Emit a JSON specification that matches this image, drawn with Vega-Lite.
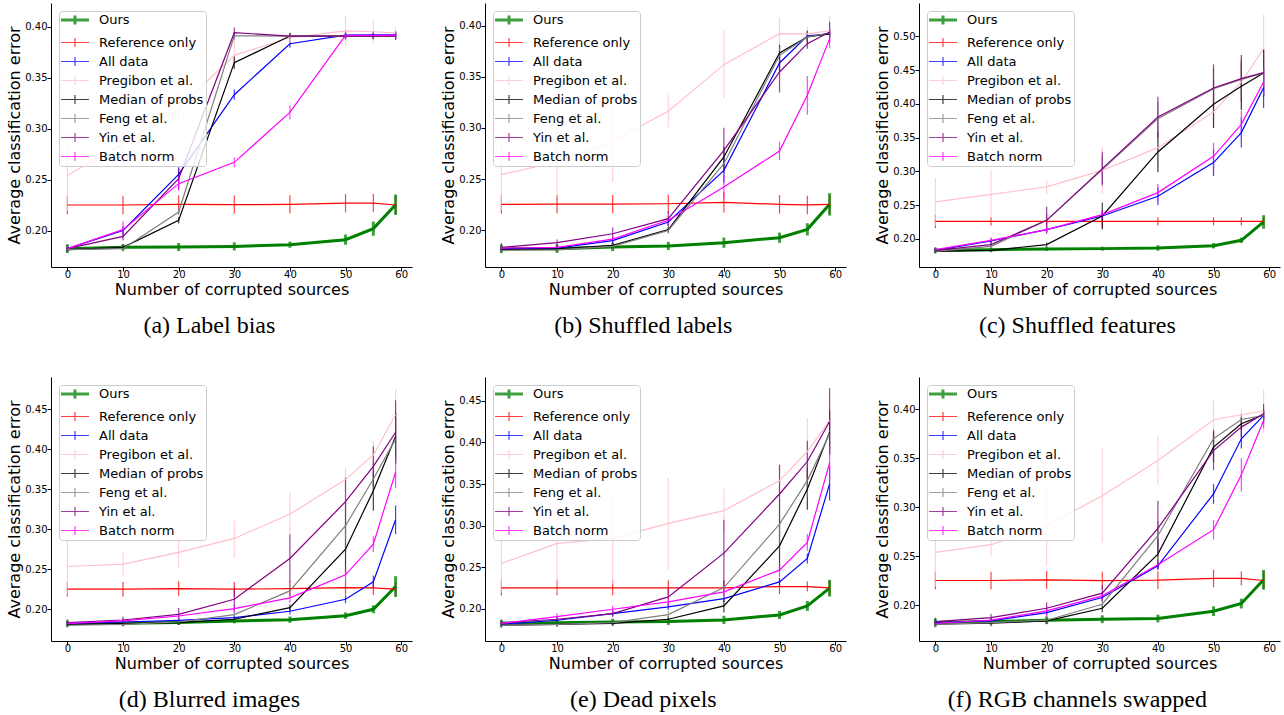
{
"$schema":"https://vega.github.io/schema/vega-lite/v6.json",
"padding":{"left":6,"top":3,"right":2,"bottom":2},
"config":{
"view":{"stroke":null},
"font":"DejaVu Sans",
"axis":{"grid":false,"domainColor":"black","tickColor":"black","tickSize":4,"labelFont":"DejaVu Sans","labelFontSize":10,"labelColor":"black","titleFont":"DejaVu Sans","titleFontSize":16,"titleFontWeight":"normal","titleColor":"black"},
"axisX":{"titlePadding":2,"labelPadding":-2},
"axisY":{"titlePadding":2,"labelPadding":0},
"legend":{"title":null,"orient":"top-left","offset":8,"symbolType":"M-1.27,0H3.82M1.27,-0.8V0.8","symbolSize":121,"labelFont":"DejaVu Sans","labelFontSize":13,"labelColor":"black","fillColor":"rgba(255,255,255,0.8)","strokeColor":"#cccccc","cornerRadius":3,"padding":2,"rowPadding":4,"labelOffset":24,"symbolOpacity":0.75},
"title":{"orient":"bottom","font":"Liberation Serif","fontSize":24,"fontWeight":"normal","color":"black","frame":"bounds","anchor":"middle","offset":16.5},
"concat":{"spacing":28}
},
"datasets":{
"a":[
{"s":"Ours","x":0,"y":0.1824,"e":0.004},{"s":"Ours","x":10,"y":0.1837,"e":0.003},{"s":"Ours","x":20,"y":0.184,"e":0.004},{"s":"Ours","x":30,"y":0.1846,"e":0.004},{"s":"Ours","x":40,"y":0.1863,"e":0.003},{"s":"Ours","x":50,"y":0.1912,"e":0.005},{"s":"Ours","x":55,"y":0.202,"e":0.007},{"s":"Ours","x":59,"y":0.2255,"e":0.01},
{"s":"Reference only","x":0,"y":0.2252,"e":0.009},{"s":"Reference only","x":10,"y":0.2252,"e":0.009},{"s":"Reference only","x":20,"y":0.2258,"e":0.009},{"s":"Reference only","x":30,"y":0.2255,"e":0.009},{"s":"Reference only","x":40,"y":0.2258,"e":0.009},{"s":"Reference only","x":50,"y":0.227,"e":0.009},{"s":"Reference only","x":55,"y":0.227,"e":0.009},{"s":"Reference only","x":59,"y":0.2252,"e":0.009},
{"s":"All data","x":0,"y":0.1824,"e":0.003},{"s":"All data","x":10,"y":0.2003,"e":0.004},{"s":"All data","x":20,"y":0.2552,"e":0.007},{"s":"All data","x":30,"y":0.3333,"e":0.005},{"s":"All data","x":40,"y":0.3833,"e":0.004},{"s":"All data","x":50,"y":0.3917,"e":0.003},{"s":"All data","x":55,"y":0.392,"e":0.003},{"s":"All data","x":59,"y":0.392,"e":0.003},
{"s":"Pregibon et al.","x":0,"y":0.2543,"e":0.035},{"s":"Pregibon et al.","x":10,"y":0.285,"e":0.02},{"s":"Pregibon et al.","x":20,"y":0.32,"e":0.015},{"s":"Pregibon et al.","x":30,"y":0.3719,"e":0.015},{"s":"Pregibon et al.","x":40,"y":0.3892,"e":0.005},{"s":"Pregibon et al.","x":50,"y":0.3958,"e":0.015},{"s":"Pregibon et al.","x":55,"y":0.395,"e":0.012},{"s":"Pregibon et al.","x":59,"y":0.394,"e":0.006},
{"s":"Median of probs","x":0,"y":0.1815,"e":0.003},{"s":"Median of probs","x":10,"y":0.1837,"e":0.003},{"s":"Median of probs","x":20,"y":0.2101,"e":0.003},{"s":"Median of probs","x":30,"y":0.3647,"e":0.006},{"s":"Median of probs","x":40,"y":0.3908,"e":0.003},{"s":"Median of probs","x":50,"y":0.3908,"e":0.003},{"s":"Median of probs","x":55,"y":0.3908,"e":0.003},{"s":"Median of probs","x":59,"y":0.3908,"e":0.003},
{"s":"Feng et al.","x":0,"y":0.1814,"e":0.003},{"s":"Feng et al.","x":10,"y":0.1824,"e":0.003},{"s":"Feng et al.","x":20,"y":0.2183,"e":0.003},{"s":"Feng et al.","x":30,"y":0.391,"e":0.004},{"s":"Feng et al.","x":40,"y":0.3908,"e":0.003},{"s":"Feng et al.","x":50,"y":0.3908,"e":0.003},{"s":"Feng et al.","x":55,"y":0.3908,"e":0.003},{"s":"Feng et al.","x":59,"y":0.3908,"e":0.003},
{"s":"Yin et al.","x":0,"y":0.1824,"e":0.004},{"s":"Yin et al.","x":10,"y":0.1944,"e":0.004},{"s":"Yin et al.","x":20,"y":0.251,"e":0.01},{"s":"Yin et al.","x":30,"y":0.3941,"e":0.005},{"s":"Yin et al.","x":40,"y":0.3908,"e":0.003},{"s":"Yin et al.","x":50,"y":0.3908,"e":0.003},{"s":"Yin et al.","x":55,"y":0.3908,"e":0.003},{"s":"Yin et al.","x":59,"y":0.3908,"e":0.004},
{"s":"Batch norm","x":0,"y":0.1824,"e":0.003},{"s":"Batch norm","x":10,"y":0.201,"e":0.008},{"s":"Batch norm","x":20,"y":0.2461,"e":0.007},{"s":"Batch norm","x":30,"y":0.267,"e":0.005},{"s":"Batch norm","x":40,"y":0.316,"e":0.007},{"s":"Batch norm","x":50,"y":0.3915,"e":0.004},{"s":"Batch norm","x":55,"y":0.3915,"e":0.004},{"s":"Batch norm","x":59,"y":0.3915,"e":0.004}
],
"b":[
{"s":"Ours","x":0,"y":0.1821,"e":0.004},{"s":"Ours","x":10,"y":0.1821,"e":0.004},{"s":"Ours","x":20,"y":0.1837,"e":0.004},{"s":"Ours","x":30,"y":0.1847,"e":0.004},{"s":"Ours","x":40,"y":0.188,"e":0.005},{"s":"Ours","x":50,"y":0.1928,"e":0.005},{"s":"Ours","x":55,"y":0.201,"e":0.006},{"s":"Ours","x":59,"y":0.2254,"e":0.011},
{"s":"Reference only","x":0,"y":0.2254,"e":0.009},{"s":"Reference only","x":10,"y":0.2256,"e":0.009},{"s":"Reference only","x":20,"y":0.2256,"e":0.009},{"s":"Reference only","x":30,"y":0.226,"e":0.009},{"s":"Reference only","x":40,"y":0.2274,"e":0.01},{"s":"Reference only","x":50,"y":0.2254,"e":0.009},{"s":"Reference only","x":55,"y":0.2248,"e":0.009},{"s":"Reference only","x":59,"y":0.2254,"e":0.009},
{"s":"All data","x":0,"y":0.182,"e":0.003},{"s":"All data","x":10,"y":0.1827,"e":0.003},{"s":"All data","x":20,"y":0.19,"e":0.003},{"s":"All data","x":30,"y":0.2081,"e":0.004},{"s":"All data","x":40,"y":0.2586,"e":0.012},{"s":"All data","x":50,"y":0.3635,"e":0.008},{"s":"All data","x":55,"y":0.39,"e":0.004},{"s":"All data","x":59,"y":0.392,"e":0.004},
{"s":"Pregibon et al.","x":0,"y":0.2544,"e":0.035},{"s":"Pregibon et al.","x":10,"y":0.2668,"e":0.035},{"s":"Pregibon et al.","x":20,"y":0.2873,"e":0.04},{"s":"Pregibon et al.","x":30,"y":0.3163,"e":0.016},{"s":"Pregibon et al.","x":40,"y":0.3619,"e":0.033},{"s":"Pregibon et al.","x":50,"y":0.3922,"e":0.016},{"s":"Pregibon et al.","x":55,"y":0.392,"e":0.007},{"s":"Pregibon et al.","x":59,"y":0.395,"e":0.014},
{"s":"Median of probs","x":0,"y":0.1811,"e":0.003},{"s":"Median of probs","x":10,"y":0.182,"e":0.003},{"s":"Median of probs","x":20,"y":0.1853,"e":0.003},{"s":"Median of probs","x":30,"y":0.2007,"e":0.003},{"s":"Median of probs","x":40,"y":0.2717,"e":0.01},{"s":"Median of probs","x":50,"y":0.3733,"e":0.008},{"s":"Median of probs","x":55,"y":0.389,"e":0.006},{"s":"Median of probs","x":59,"y":0.392,"e":0.004},
{"s":"Feng et al.","x":0,"y":0.1805,"e":0.003},{"s":"Feng et al.","x":10,"y":0.181,"e":0.003},{"s":"Feng et al.","x":20,"y":0.1844,"e":0.003},{"s":"Feng et al.","x":30,"y":0.2,"e":0.003},{"s":"Feng et al.","x":40,"y":0.2651,"e":0.01},{"s":"Feng et al.","x":50,"y":0.371,"e":0.008},{"s":"Feng et al.","x":55,"y":0.389,"e":0.005},{"s":"Feng et al.","x":59,"y":0.3928,"e":0.004},
{"s":"Yin et al.","x":0,"y":0.1834,"e":0.004},{"s":"Yin et al.","x":10,"y":0.188,"e":0.003},{"s":"Yin et al.","x":20,"y":0.1967,"e":0.006},{"s":"Yin et al.","x":30,"y":0.2114,"e":0.007},{"s":"Yin et al.","x":40,"y":0.2782,"e":0.022},{"s":"Yin et al.","x":50,"y":0.3547,"e":0.02},{"s":"Yin et al.","x":55,"y":0.3824,"e":0.005},{"s":"Yin et al.","x":59,"y":0.3938,"e":0.01},
{"s":"Batch norm","x":0,"y":0.1827,"e":0.003},{"s":"Batch norm","x":10,"y":0.1834,"e":0.003},{"s":"Batch norm","x":20,"y":0.1915,"e":0.003},{"s":"Batch norm","x":30,"y":0.2098,"e":0.004},{"s":"Batch norm","x":40,"y":0.2423,"e":0.012},{"s":"Batch norm","x":50,"y":0.2775,"e":0.009},{"s":"Batch norm","x":55,"y":0.3319,"e":0.019},{"s":"Batch norm","x":59,"y":0.3873,"e":0.009}
],
"c":[
{"s":"Ours","x":0,"y":0.1832,"e":0.004},{"s":"Ours","x":10,"y":0.1842,"e":0.003},{"s":"Ours","x":20,"y":0.1852,"e":0.003},{"s":"Ours","x":30,"y":0.1857,"e":0.003},{"s":"Ours","x":40,"y":0.1867,"e":0.004},{"s":"Ours","x":50,"y":0.19,"e":0.004},{"s":"Ours","x":55,"y":0.198,"e":0.004},{"s":"Ours","x":59,"y":0.2252,"e":0.01},
{"s":"Reference only","x":0,"y":0.2261,"e":0.01},{"s":"Reference only","x":10,"y":0.2261,"e":0.006},{"s":"Reference only","x":20,"y":0.2261,"e":0.006},{"s":"Reference only","x":30,"y":0.2261,"e":0.01},{"s":"Reference only","x":40,"y":0.2261,"e":0.006},{"s":"Reference only","x":50,"y":0.2261,"e":0.006},{"s":"Reference only","x":55,"y":0.2261,"e":0.006},{"s":"Reference only","x":59,"y":0.2261,"e":0.006},
{"s":"All data","x":0,"y":0.1832,"e":0.003},{"s":"All data","x":10,"y":0.197,"e":0.004},{"s":"All data","x":20,"y":0.2138,"e":0.004},{"s":"All data","x":30,"y":0.234,"e":0.008},{"s":"All data","x":40,"y":0.2632,"e":0.013},{"s":"All data","x":50,"y":0.313,"e":0.02},{"s":"All data","x":55,"y":0.3574,"e":0.022},{"s":"All data","x":59,"y":0.424,"e":0.03},
{"s":"Pregibon et al.","x":0,"y":0.2548,"e":0.035},{"s":"Pregibon et al.","x":10,"y":0.2661,"e":0.035},{"s":"Pregibon et al.","x":20,"y":0.277,"e":0.01},{"s":"Pregibon et al.","x":30,"y":0.3016,"e":0.035},{"s":"Pregibon et al.","x":40,"y":0.3352,"e":0.03},{"s":"Pregibon et al.","x":50,"y":0.388,"e":0.025},{"s":"Pregibon et al.","x":55,"y":0.4324,"e":0.04},{"s":"Pregibon et al.","x":59,"y":0.4817,"e":0.05},
{"s":"Median of probs","x":0,"y":0.1817,"e":0.003},{"s":"Median of probs","x":10,"y":0.1832,"e":0.003},{"s":"Median of probs","x":20,"y":0.1916,"e":0.003},{"s":"Median of probs","x":30,"y":0.234,"e":0.02},{"s":"Median of probs","x":40,"y":0.3288,"e":0.03},{"s":"Median of probs","x":50,"y":0.3993,"e":0.035},{"s":"Median of probs","x":55,"y":0.426,"e":0.035},{"s":"Median of probs","x":59,"y":0.4457,"e":0.035},
{"s":"Feng et al.","x":0,"y":0.1817,"e":0.003},{"s":"Feng et al.","x":10,"y":0.1891,"e":0.003},{"s":"Feng et al.","x":20,"y":0.2276,"e":0.01},{"s":"Feng et al.","x":30,"y":0.3026,"e":0.02},{"s":"Feng et al.","x":40,"y":0.3781,"e":0.025},{"s":"Feng et al.","x":50,"y":0.4225,"e":0.03},{"s":"Feng et al.","x":55,"y":0.4363,"e":0.03},{"s":"Feng et al.","x":59,"y":0.4457,"e":0.03},
{"s":"Yin et al.","x":0,"y":0.1832,"e":0.004},{"s":"Yin et al.","x":10,"y":0.1916,"e":0.004},{"s":"Yin et al.","x":20,"y":0.2276,"e":0.02},{"s":"Yin et al.","x":30,"y":0.3041,"e":0.025},{"s":"Yin et al.","x":40,"y":0.3806,"e":0.03},{"s":"Yin et al.","x":50,"y":0.4235,"e":0.035},{"s":"Yin et al.","x":55,"y":0.4373,"e":0.035},{"s":"Yin et al.","x":59,"y":0.4462,"e":0.035},
{"s":"Batch norm","x":0,"y":0.1842,"e":0.003},{"s":"Batch norm","x":10,"y":0.198,"e":0.004},{"s":"Batch norm","x":20,"y":0.2138,"e":0.004},{"s":"Batch norm","x":30,"y":0.236,"e":0.006},{"s":"Batch norm","x":40,"y":0.2686,"e":0.013},{"s":"Batch norm","x":50,"y":0.3224,"e":0.02},{"s":"Batch norm","x":55,"y":0.3697,"e":0.02},{"s":"Batch norm","x":59,"y":0.4324,"e":0.02}
],
"d":[
{"s":"Ours","x":0,"y":0.182,"e":0.004},{"s":"Ours","x":10,"y":0.1824,"e":0.003},{"s":"Ours","x":20,"y":0.1833,"e":0.003},{"s":"Ours","x":30,"y":0.1854,"e":0.003},{"s":"Ours","x":40,"y":0.187,"e":0.004},{"s":"Ours","x":50,"y":0.192,"e":0.004},{"s":"Ours","x":55,"y":0.2,"e":0.005},{"s":"Ours","x":59,"y":0.2284,"e":0.013},
{"s":"Reference only","x":0,"y":0.2251,"e":0.009},{"s":"Reference only","x":10,"y":0.2251,"e":0.009},{"s":"Reference only","x":20,"y":0.2259,"e":0.009},{"s":"Reference only","x":30,"y":0.2251,"e":0.009},{"s":"Reference only","x":40,"y":0.2259,"e":0.009},{"s":"Reference only","x":50,"y":0.2272,"e":0.009},{"s":"Reference only","x":55,"y":0.2268,"e":0.009},{"s":"Reference only","x":59,"y":0.2251,"e":0.009},
{"s":"All data","x":0,"y":0.182,"e":0.003},{"s":"All data","x":10,"y":0.1841,"e":0.003},{"s":"All data","x":20,"y":0.1862,"e":0.003},{"s":"All data","x":30,"y":0.1896,"e":0.003},{"s":"All data","x":40,"y":0.1975,"e":0.004},{"s":"All data","x":50,"y":0.2125,"e":0.005},{"s":"All data","x":55,"y":0.2343,"e":0.008},{"s":"All data","x":59,"y":0.312,"e":0.018},
{"s":"Pregibon et al.","x":0,"y":0.2535,"e":0.035},{"s":"Pregibon et al.","x":10,"y":0.2564,"e":0.015},{"s":"Pregibon et al.","x":20,"y":0.2711,"e":0.02},{"s":"Pregibon et al.","x":30,"y":0.2886,"e":0.024},{"s":"Pregibon et al.","x":40,"y":0.3191,"e":0.027},{"s":"Pregibon et al.","x":50,"y":0.3622,"e":0.015},{"s":"Pregibon et al.","x":55,"y":0.3931,"e":0.018},{"s":"Pregibon et al.","x":59,"y":0.4433,"e":0.032},
{"s":"Median of probs","x":0,"y":0.1808,"e":0.003},{"s":"Median of probs","x":10,"y":0.182,"e":0.003},{"s":"Median of probs","x":20,"y":0.1833,"e":0.003},{"s":"Median of probs","x":30,"y":0.1875,"e":0.003},{"s":"Median of probs","x":40,"y":0.2021,"e":0.004},{"s":"Median of probs","x":50,"y":0.2752,"e":0.03},{"s":"Median of probs","x":55,"y":0.3484,"e":0.025},{"s":"Median of probs","x":59,"y":0.4161,"e":0.03},
{"s":"Feng et al.","x":0,"y":0.18,"e":0.003},{"s":"Feng et al.","x":10,"y":0.1812,"e":0.003},{"s":"Feng et al.","x":20,"y":0.1841,"e":0.003},{"s":"Feng et al.","x":30,"y":0.1933,"e":0.004},{"s":"Feng et al.","x":40,"y":0.223,"e":0.008},{"s":"Feng et al.","x":50,"y":0.3045,"e":0.03},{"s":"Feng et al.","x":55,"y":0.363,"e":0.02},{"s":"Feng et al.","x":59,"y":0.4132,"e":0.03},
{"s":"Yin et al.","x":0,"y":0.1833,"e":0.004},{"s":"Yin et al.","x":10,"y":0.1866,"e":0.004},{"s":"Yin et al.","x":20,"y":0.1937,"e":0.008},{"s":"Yin et al.","x":30,"y":0.2125,"e":0.015},{"s":"Yin et al.","x":40,"y":0.2635,"e":0.03},{"s":"Yin et al.","x":50,"y":0.3346,"e":0.03},{"s":"Yin et al.","x":55,"y":0.3789,"e":0.025},{"s":"Yin et al.","x":59,"y":0.4215,"e":0.04},
{"s":"Batch norm","x":0,"y":0.1824,"e":0.003},{"s":"Batch norm","x":10,"y":0.1854,"e":0.003},{"s":"Batch norm","x":20,"y":0.1916,"e":0.004},{"s":"Batch norm","x":30,"y":0.2008,"e":0.005},{"s":"Batch norm","x":40,"y":0.2142,"e":0.006},{"s":"Batch norm","x":50,"y":0.2431,"e":0.008},{"s":"Batch norm","x":55,"y":0.2815,"e":0.01},{"s":"Batch norm","x":59,"y":0.3714,"e":0.02}
],
"e":[
{"s":"Ours","x":0,"y":0.1827,"e":0.004},{"s":"Ours","x":10,"y":0.1835,"e":0.003},{"s":"Ours","x":20,"y":0.1843,"e":0.004},{"s":"Ours","x":30,"y":0.1848,"e":0.004},{"s":"Ours","x":40,"y":0.1868,"e":0.005},{"s":"Ours","x":50,"y":0.1928,"e":0.005},{"s":"Ours","x":55,"y":0.2036,"e":0.006},{"s":"Ours","x":59,"y":0.2249,"e":0.01},
{"s":"Reference only","x":0,"y":0.2253,"e":0.009},{"s":"Reference only","x":10,"y":0.2253,"e":0.009},{"s":"Reference only","x":20,"y":0.2253,"e":0.009},{"s":"Reference only","x":30,"y":0.2253,"e":0.009},{"s":"Reference only","x":40,"y":0.2253,"e":0.009},{"s":"Reference only","x":50,"y":0.2269,"e":0.009},{"s":"Reference only","x":55,"y":0.2269,"e":0.006},{"s":"Reference only","x":59,"y":0.2253,"e":0.009},
{"s":"All data","x":0,"y":0.1815,"e":0.003},{"s":"All data","x":10,"y":0.1864,"e":0.003},{"s":"All data","x":20,"y":0.1944,"e":0.003},{"s":"All data","x":30,"y":0.2024,"e":0.004},{"s":"All data","x":40,"y":0.2124,"e":0.004},{"s":"All data","x":50,"y":0.2325,"e":0.005},{"s":"All data","x":55,"y":0.2606,"e":0.006},{"s":"All data","x":59,"y":0.3501,"e":0.02},
{"s":"Pregibon et al.","x":0,"y":0.2546,"e":0.035},{"s":"Pregibon et al.","x":10,"y":0.2787,"e":0.06},{"s":"Pregibon et al.","x":20,"y":0.2847,"e":0.055},{"s":"Pregibon et al.","x":30,"y":0.3027,"e":0.055},{"s":"Pregibon et al.","x":40,"y":0.318,"e":0.027},{"s":"Pregibon et al.","x":50,"y":0.3541,"e":0.02},{"s":"Pregibon et al.","x":55,"y":0.389,"e":0.04},{"s":"Pregibon et al.","x":59,"y":0.4263,"e":0.02},
{"s":"Median of probs","x":0,"y":0.1803,"e":0.003},{"s":"Median of probs","x":10,"y":0.1815,"e":0.003},{"s":"Median of probs","x":20,"y":0.1827,"e":0.003},{"s":"Median of probs","x":30,"y":0.1876,"e":0.004},{"s":"Median of probs","x":40,"y":0.2036,"e":0.008},{"s":"Median of probs","x":50,"y":0.2758,"e":0.03},{"s":"Median of probs","x":55,"y":0.3441,"e":0.025},{"s":"Median of probs","x":59,"y":0.4123,"e":0.025},
{"s":"Feng et al.","x":0,"y":0.1803,"e":0.003},{"s":"Feng et al.","x":10,"y":0.1815,"e":0.003},{"s":"Feng et al.","x":20,"y":0.1835,"e":0.003},{"s":"Feng et al.","x":30,"y":0.1932,"e":0.004},{"s":"Feng et al.","x":40,"y":0.2257,"e":0.008},{"s":"Feng et al.","x":50,"y":0.3019,"e":0.03},{"s":"Feng et al.","x":55,"y":0.3541,"e":0.02},{"s":"Feng et al.","x":59,"y":0.4103,"e":0.025},
{"s":"Yin et al.","x":0,"y":0.1835,"e":0.004},{"s":"Yin et al.","x":10,"y":0.1876,"e":0.004},{"s":"Yin et al.","x":20,"y":0.1944,"e":0.004},{"s":"Yin et al.","x":30,"y":0.2144,"e":0.01},{"s":"Yin et al.","x":40,"y":0.267,"e":0.04},{"s":"Yin et al.","x":50,"y":0.338,"e":0.035},{"s":"Yin et al.","x":55,"y":0.377,"e":0.025},{"s":"Yin et al.","x":59,"y":0.4251,"e":0.04},
{"s":"Batch norm","x":0,"y":0.1827,"e":0.003},{"s":"Batch norm","x":10,"y":0.1908,"e":0.004},{"s":"Batch norm","x":20,"y":0.1996,"e":0.004},{"s":"Batch norm","x":30,"y":0.2084,"e":0.005},{"s":"Batch norm","x":40,"y":0.2205,"e":0.006},{"s":"Batch norm","x":50,"y":0.2466,"e":0.008},{"s":"Batch norm","x":55,"y":0.2799,"e":0.01},{"s":"Batch norm","x":59,"y":0.3754,"e":0.02}
],
"f":[
{"s":"Ours","x":0,"y":0.1823,"e":0.004},{"s":"Ours","x":10,"y":0.1833,"e":0.003},{"s":"Ours","x":20,"y":0.1847,"e":0.004},{"s":"Ours","x":30,"y":0.1857,"e":0.004},{"s":"Ours","x":40,"y":0.1864,"e":0.004},{"s":"Ours","x":50,"y":0.1939,"e":0.005},{"s":"Ours","x":55,"y":0.2017,"e":0.005},{"s":"Ours","x":59,"y":0.2259,"e":0.01},
{"s":"Reference only","x":0,"y":0.2252,"e":0.009},{"s":"Reference only","x":10,"y":0.2252,"e":0.009},{"s":"Reference only","x":20,"y":0.2259,"e":0.009},{"s":"Reference only","x":30,"y":0.225,"e":0.009},{"s":"Reference only","x":40,"y":0.2255,"e":0.009},{"s":"Reference only","x":50,"y":0.2273,"e":0.009},{"s":"Reference only","x":55,"y":0.2273,"e":0.007},{"s":"Reference only","x":59,"y":0.2252,"e":0.009},
{"s":"All data","x":0,"y":0.1823,"e":0.003},{"s":"All data","x":10,"y":0.184,"e":0.003},{"s":"All data","x":20,"y":0.1925,"e":0.003},{"s":"All data","x":30,"y":0.2078,"e":0.004},{"s":"All data","x":40,"y":0.2402,"e":0.004},{"s":"All data","x":50,"y":0.3135,"e":0.01},{"s":"All data","x":55,"y":0.3697,"e":0.01},{"s":"All data","x":59,"y":0.3935,"e":0.005},
{"s":"Pregibon et al.","x":0,"y":0.2538,"e":0.035},{"s":"Pregibon et al.","x":10,"y":0.2617,"e":0.012},{"s":"Pregibon et al.","x":20,"y":0.2811,"e":0.04},{"s":"Pregibon et al.","x":30,"y":0.3117,"e":0.048},{"s":"Pregibon et al.","x":40,"y":0.3475,"e":0.025},{"s":"Pregibon et al.","x":50,"y":0.3891,"e":0.02},{"s":"Pregibon et al.","x":55,"y":0.3942,"e":0.006},{"s":"Pregibon et al.","x":59,"y":0.398,"e":0.022},
{"s":"Median of probs","x":0,"y":0.1806,"e":0.003},{"s":"Median of probs","x":10,"y":0.1816,"e":0.003},{"s":"Median of probs","x":20,"y":0.184,"e":0.003},{"s":"Median of probs","x":30,"y":0.1969,"e":0.004},{"s":"Median of probs","x":40,"y":0.2521,"e":0.015},{"s":"Median of probs","x":50,"y":0.3612,"e":0.015},{"s":"Median of probs","x":55,"y":0.385,"e":0.006},{"s":"Median of probs","x":59,"y":0.3942,"e":0.005},
{"s":"Feng et al.","x":0,"y":0.1806,"e":0.003},{"s":"Feng et al.","x":10,"y":0.1823,"e":0.003},{"s":"Feng et al.","x":20,"y":0.1847,"e":0.003},{"s":"Feng et al.","x":30,"y":0.201,"e":0.004},{"s":"Feng et al.","x":40,"y":0.2709,"e":0.015},{"s":"Feng et al.","x":50,"y":0.3697,"e":0.01},{"s":"Feng et al.","x":55,"y":0.3894,"e":0.005},{"s":"Feng et al.","x":59,"y":0.3935,"e":0.005},
{"s":"Yin et al.","x":0,"y":0.1833,"e":0.004},{"s":"Yin et al.","x":10,"y":0.1874,"e":0.004},{"s":"Yin et al.","x":20,"y":0.1969,"e":0.006},{"s":"Yin et al.","x":30,"y":0.2123,"e":0.008},{"s":"Yin et al.","x":40,"y":0.2784,"e":0.028},{"s":"Yin et al.","x":50,"y":0.3577,"e":0.02},{"s":"Yin et al.","x":55,"y":0.3816,"e":0.01},{"s":"Yin et al.","x":59,"y":0.3952,"e":0.01},
{"s":"Batch norm","x":0,"y":0.1816,"e":0.003},{"s":"Batch norm","x":10,"y":0.1847,"e":0.003},{"s":"Batch norm","x":20,"y":0.1942,"e":0.005},{"s":"Batch norm","x":30,"y":0.2095,"e":0.004},{"s":"Batch norm","x":40,"y":0.2412,"e":0.005},{"s":"Batch norm","x":50,"y":0.277,"e":0.01},{"s":"Batch norm","x":55,"y":0.3329,"e":0.017},{"s":"Batch norm","x":59,"y":0.3884,"e":0.008}
]
},
"vconcat":[
{"hconcat":[
{"width":361,"height":264,"data":{"name":"a"},"title":{"text":"(a) Label bias"},
"encoding":{
"x":{"field":"x","type":"quantitative","scale":{"domain":[-2.95,61.95],"nice":false,"zero":false},"axis":{"values":[0,10,20,30,40,50,60],"format":"d","title":"Number of corrupted sources"}},
"y":{"field":"y","type":"quantitative","scale":{"domain":[0.1644,0.4232],"nice":false,"zero":false},"axis":{"values":[0.2,0.25,0.3,0.35,0.4],"format":".2f","title":"Average classification error"}},
"color":{"field":"s","type":"nominal","scale":{"domain":["Ours","Reference only","All data","Pregibon et al.","Median of probs","Feng et al.","Yin et al.","Batch norm"],"range":["#008000","#ff0000","#0000ff","#ffc0cb","#000000","#808080","#800080","#ff00ff"]}},
"strokeWidth":{"field":"s","type":"nominal","scale":{"type":"ordinal","domain":["Ours","Reference only","All data","Pregibon et al.","Median of probs","Feng et al.","Yin et al.","Batch norm"],"range":[3,1.2,1.2,1.2,1.2,1.2,1.2,1.2]}}},
"layer":[{"mark":{"type":"errorbar","opacity":0.75},"encoding":{"yError":{"field":"e"}}},{"mark":{"type":"line"}}]},
{"width":361,"height":264,"data":{"name":"b"},"title":{"text":"(b) Shuffled labels"},
"encoding":{
"x":{"field":"x","type":"quantitative","scale":{"domain":[-2.95,61.95],"nice":false,"zero":false},"axis":{"values":[0,10,20,30,40,50,60],"format":"d","title":"Number of corrupted sources"}},
"y":{"field":"y","type":"quantitative","scale":{"domain":[0.1642,0.4221],"nice":false,"zero":false},"axis":{"values":[0.2,0.25,0.3,0.35,0.4],"format":".2f","title":"Average classification error"}},
"color":{"field":"s","type":"nominal","scale":{"domain":["Ours","Reference only","All data","Pregibon et al.","Median of probs","Feng et al.","Yin et al.","Batch norm"],"range":["#008000","#ff0000","#0000ff","#ffc0cb","#000000","#808080","#800080","#ff00ff"]}},
"strokeWidth":{"field":"s","type":"nominal","scale":{"type":"ordinal","domain":["Ours","Reference only","All data","Pregibon et al.","Median of probs","Feng et al.","Yin et al.","Batch norm"],"range":[3,1.2,1.2,1.2,1.2,1.2,1.2,1.2]}}},
"layer":[{"mark":{"type":"errorbar","opacity":0.75},"encoding":{"yError":{"field":"e"}}},{"mark":{"type":"line"}}]},
{"width":361,"height":264,"data":{"name":"c"},"title":{"text":"(c) Shuffled features"},
"encoding":{
"x":{"field":"x","type":"quantitative","scale":{"domain":[-2.95,61.95],"nice":false,"zero":false},"axis":{"values":[0,10,20,30,40,50,60],"format":"d","title":"Number of corrupted sources"}},
"y":{"field":"y","type":"quantitative","scale":{"domain":[0.1585,0.5493],"nice":false,"zero":false},"axis":{"values":[0.2,0.25,0.3,0.35,0.4,0.45,0.5],"format":".2f","title":"Average classification error"}},
"color":{"field":"s","type":"nominal","scale":{"domain":["Ours","Reference only","All data","Pregibon et al.","Median of probs","Feng et al.","Yin et al.","Batch norm"],"range":["#008000","#ff0000","#0000ff","#ffc0cb","#000000","#808080","#800080","#ff00ff"]}},
"strokeWidth":{"field":"s","type":"nominal","scale":{"type":"ordinal","domain":["Ours","Reference only","All data","Pregibon et al.","Median of probs","Feng et al.","Yin et al.","Batch norm"],"range":[3,1.2,1.2,1.2,1.2,1.2,1.2,1.2]}}},
"layer":[{"mark":{"type":"errorbar","opacity":0.75},"encoding":{"yError":{"field":"e"}}},{"mark":{"type":"line"}}]}
],
"resolve":{"scale":{"color":"independent","strokeWidth":"independent","y":"independent"},"legend":{"color":"independent","strokeWidth":"independent"}}},
{"hconcat":[
{"width":361,"height":264,"data":{"name":"d"},"title":{"text":"(d) Blurred images"},
"encoding":{
"x":{"field":"x","type":"quantitative","scale":{"domain":[-2.95,61.95],"nice":false,"zero":false},"axis":{"values":[0,10,20,30,40,50,60],"format":"d","title":"Number of corrupted sources"}},
"y":{"field":"y","type":"quantitative","scale":{"domain":[0.1603,0.4906],"nice":false,"zero":false},"axis":{"values":[0.2,0.25,0.3,0.35,0.4,0.45],"format":".2f","title":"Average classification error"}},
"color":{"field":"s","type":"nominal","scale":{"domain":["Ours","Reference only","All data","Pregibon et al.","Median of probs","Feng et al.","Yin et al.","Batch norm"],"range":["#008000","#ff0000","#0000ff","#ffc0cb","#000000","#808080","#800080","#ff00ff"]}},
"strokeWidth":{"field":"s","type":"nominal","scale":{"type":"ordinal","domain":["Ours","Reference only","All data","Pregibon et al.","Median of probs","Feng et al.","Yin et al.","Batch norm"],"range":[3,1.2,1.2,1.2,1.2,1.2,1.2,1.2]}}},
"layer":[{"mark":{"type":"errorbar","opacity":0.75},"encoding":{"yError":{"field":"e"}}},{"mark":{"type":"line"}}]},
{"width":361,"height":264,"data":{"name":"e"},"title":{"text":"(e) Dead pixels"},
"encoding":{
"x":{"field":"x","type":"quantitative","scale":{"domain":[-2.95,61.95],"nice":false,"zero":false},"axis":{"values":[0,10,20,30,40,50,60],"format":"d","title":"Number of corrupted sources"}},
"y":{"field":"y","type":"quantitative","scale":{"domain":[0.1615,0.4785],"nice":false,"zero":false},"axis":{"values":[0.2,0.25,0.3,0.35,0.4,0.45],"format":".2f","title":"Average classification error"}},
"color":{"field":"s","type":"nominal","scale":{"domain":["Ours","Reference only","All data","Pregibon et al.","Median of probs","Feng et al.","Yin et al.","Batch norm"],"range":["#008000","#ff0000","#0000ff","#ffc0cb","#000000","#808080","#800080","#ff00ff"]}},
"strokeWidth":{"field":"s","type":"nominal","scale":{"type":"ordinal","domain":["Ours","Reference only","All data","Pregibon et al.","Median of probs","Feng et al.","Yin et al.","Batch norm"],"range":[3,1.2,1.2,1.2,1.2,1.2,1.2,1.2]}}},
"layer":[{"mark":{"type":"errorbar","opacity":0.75},"encoding":{"yError":{"field":"e"}}},{"mark":{"type":"line"}}]},
{"width":361,"height":264,"data":{"name":"f"},"title":{"text":"(f) RGB channels swapped"},
"encoding":{
"x":{"field":"x","type":"quantitative","scale":{"domain":[-2.95,61.95],"nice":false,"zero":false},"axis":{"values":[0,10,20,30,40,50,60],"format":"d","title":"Number of corrupted sources"}},
"y":{"field":"y","type":"quantitative","scale":{"domain":[0.1635,0.4327],"nice":false,"zero":false},"axis":{"values":[0.2,0.25,0.3,0.35,0.4],"format":".2f","title":"Average classification error"}},
"color":{"field":"s","type":"nominal","scale":{"domain":["Ours","Reference only","All data","Pregibon et al.","Median of probs","Feng et al.","Yin et al.","Batch norm"],"range":["#008000","#ff0000","#0000ff","#ffc0cb","#000000","#808080","#800080","#ff00ff"]}},
"strokeWidth":{"field":"s","type":"nominal","scale":{"type":"ordinal","domain":["Ours","Reference only","All data","Pregibon et al.","Median of probs","Feng et al.","Yin et al.","Batch norm"],"range":[3,1.2,1.2,1.2,1.2,1.2,1.2,1.2]}}},
"layer":[{"mark":{"type":"errorbar","opacity":0.75},"encoding":{"yError":{"field":"e"}}},{"mark":{"type":"line"}}]}
],
"resolve":{"scale":{"color":"independent","strokeWidth":"independent","y":"independent"},"legend":{"color":"independent","strokeWidth":"independent"}}}
],
"spacing":39,
"resolve":{"scale":{"color":"independent","strokeWidth":"independent","y":"independent"},"legend":{"color":"independent","strokeWidth":"independent"}}
}
